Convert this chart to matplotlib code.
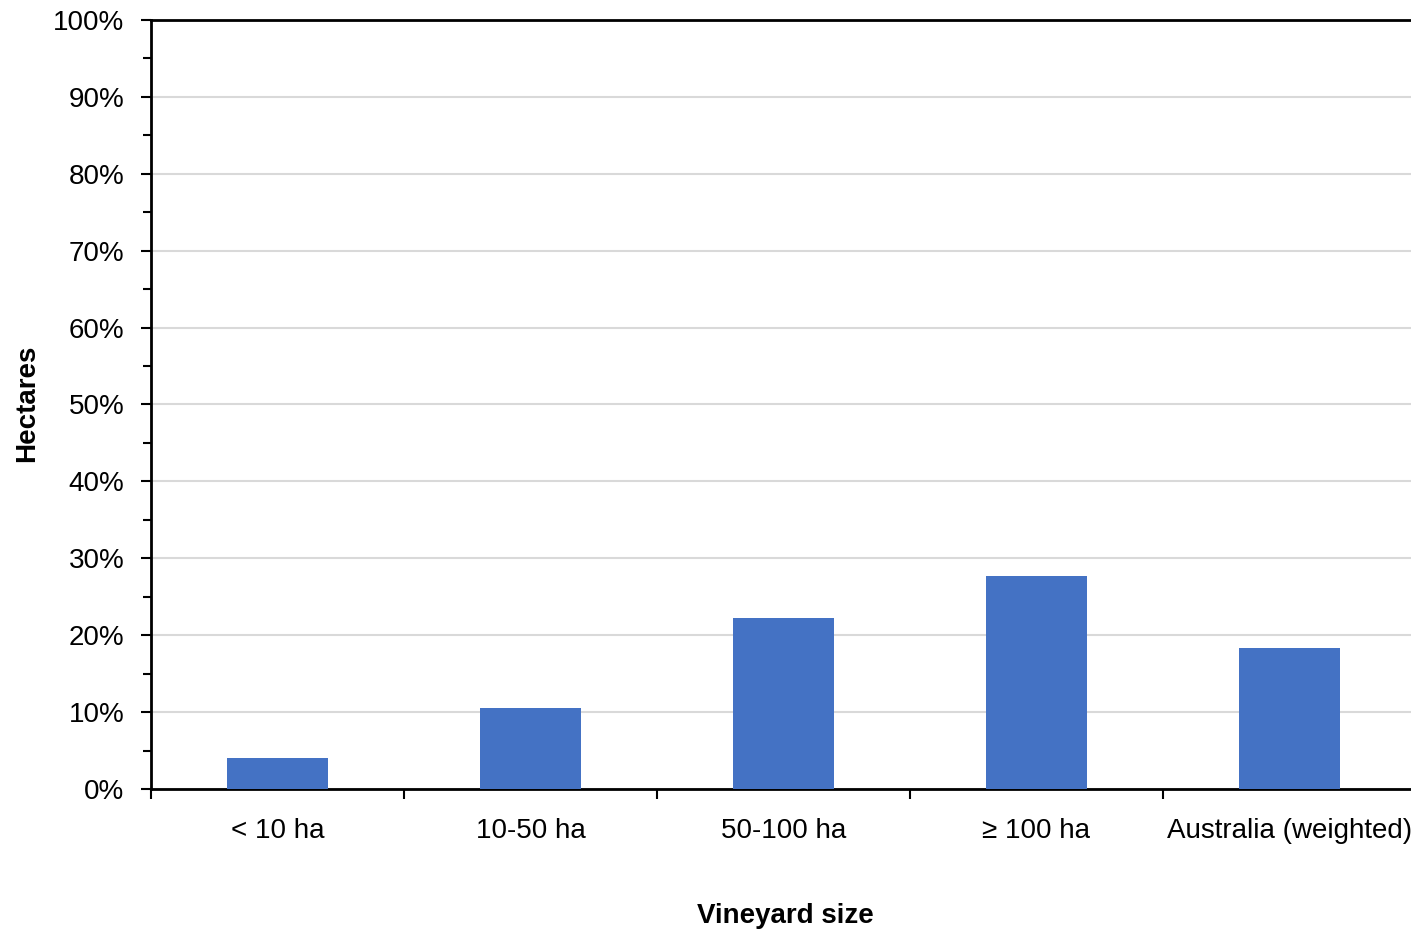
import numpy as np
import matplotlib.pyplot as plt
from matplotlib.ticker import MultipleLocator, FuncFormatter, FixedLocator

# Share of hectares by vineyard size group
categories = ['< 10 ha', '10-50 ha', '50-100 ha', '\u2265 100 ha', 'Australia (weighted)']
shares = [4.0, 10.5, 22.2, 27.7, 18.3]

plt.rcParams['font.family'] = ['Liberation Sans Narrow', 'Liberation Sans', 'DejaVu Sans']

fig = plt.figure(figsize=(14.11, 9.33), dpi=100)
ax = fig.add_axes([151 / 1411, 1 - 789 / 933, (1416 - 151) / 1411, (789 - 20) / 933])

x = np.arange(len(categories))
ax.bar(x, shares, width=0.4, color='#4472c4', zorder=3)

ax.set_xlim(-0.5, len(categories) - 0.5)
ax.set_ylim(0, 100)

# y axis: labels every 10%, small ticks in between
ax.yaxis.set_major_locator(MultipleLocator(10))
ax.yaxis.set_minor_locator(MultipleLocator(5))
ax.yaxis.set_major_formatter(FuncFormatter(lambda v, p: f'{v:.0f}%'))
ax.tick_params(axis='y', which='major', length=7, width=1.5, labelsize=20, pad=12)
ax.tick_params(axis='y', which='minor', length=6, width=1.5)
ax.grid(axis='y', which='major', color='#d9d9d9', linewidth=1.5, zorder=0)

# x axis: labels centred under bars, ticks at group boundaries
ax.set_xticks(x)
ax.set_xticklabels(categories)
ax.xaxis.set_minor_locator(FixedLocator(np.arange(len(categories) + 1) - 0.5))
ax.tick_params(axis='x', which='major', length=0, labelsize=20, pad=21)
ax.tick_params(axis='x', which='minor', length=7, width=1.5)

for side in ['left', 'bottom', 'top']:
    ax.spines[side].set_linewidth(2)
    ax.spines[side].set_color('black')
ax.spines['right'].set_visible(False)

fig.text(785 / 1411, 1 - 916 / 933, 'Vineyard size', fontsize=20, fontweight='bold',
         ha='center', va='center')
fig.text(27 / 1411, 1 - 403 / 933, 'Hectares', fontsize=20, fontweight='bold',
         ha='center', va='center', rotation=90)

fig.savefig('out.png', dpi=100)
